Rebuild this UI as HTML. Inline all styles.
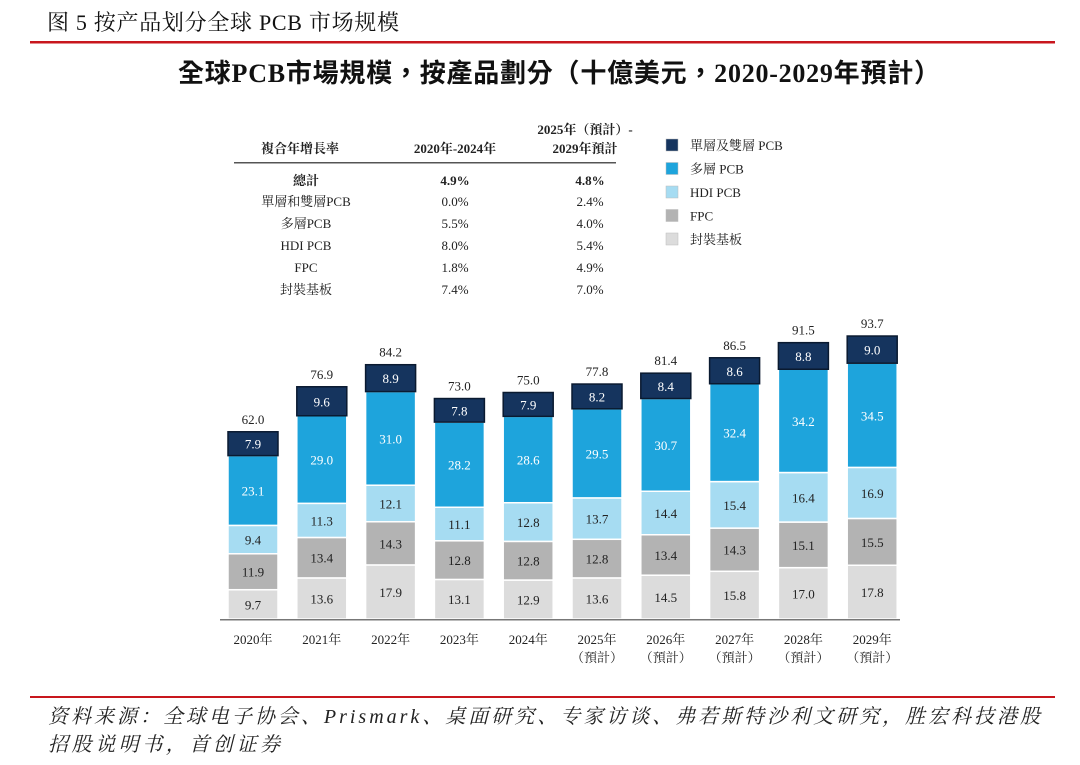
<!DOCTYPE html>
<html><head><meta charset="utf-8">
<style>
body{margin:0;background:#fff;}
svg{display:block;}
text{font-family:"Liberation Serif","Noto Serif CJK SC","Noto Sans CJK TC",serif;}
</style></head>
<body>
<svg id="chart" width="1080" height="765" viewBox="0 0 1080 765">
<text x="47" y="30" font-size="22" fill="#111" textLength="352">图 5  按产品划分全球 PCB 市场规模</text>
<rect x="30" y="41" width="1025" height="2.5" fill="#c8161d"/>
<text x="178" y="82" font-size="26" font-weight="bold" fill="#111" textLength="762" style='font-family:"Liberation Serif","Noto Sans CJK TC",serif'>全球PCB市場規模，按產品劃分（十億美元，2020-2029年預計）</text>

<g font-size="13" fill="#222" text-anchor="middle">
<text x="300" y="153" font-weight="bold">複合年增長率</text>
<text x="455" y="153" font-weight="bold">2020年-2024年</text>
<text x="585" y="134" font-weight="bold">2025年（預計）-</text>
<text x="585" y="153" font-weight="bold">2029年預計</text>
<rect x="234" y="162" width="382" height="1.5" fill="#555"/>
<text x="306" y="185" font-weight="bold">總計</text><text x="455" y="185" font-weight="bold">4.9%</text><text x="590" y="185" font-weight="bold">4.8%</text>
<text x="306" y="206">單層和雙層PCB</text><text x="455" y="206">0.0%</text><text x="590" y="206">2.4%</text>
<text x="306" y="228">多層PCB</text><text x="455" y="228">5.5%</text><text x="590" y="228">4.0%</text>
<text x="306" y="250">HDI PCB</text><text x="455" y="250">8.0%</text><text x="590" y="250">5.4%</text>
<text x="306" y="272">FPC</text><text x="455" y="272">1.8%</text><text x="590" y="272">4.9%</text>
<text x="306" y="294">封裝基板</text><text x="455" y="294">7.4%</text><text x="590" y="294">7.0%</text>
</g>
<g id="legend"></g>
<g id="bars"></g>
<rect x="220" y="619" width="680" height="1.5" fill="#777"/>
<g id="xlabels"></g>
<rect x="30" y="696" width="1025" height="2" fill="#c8161d"/>
<text x="48" y="723" font-size="20" font-style="italic" fill="#222" textLength="992" style='font-family:"Liberation Serif","Noto Serif CJK SC",serif'>资料来源：全球电子协会、Prismark、桌面研究、专家访谈、弗若斯特沙利文研究，胜宏科技港股</text>
<text x="48" y="751" font-size="20" font-style="italic" fill="#222" textLength="232" style='font-family:"Liberation Serif","Noto Serif CJK SC",serif'>招股说明书，首创证券</text>
</svg>
<script>
const categories=["2020年","2021年","2022年","2023年","2024年","2025年","2026年","2027年","2028年","2029年"];
const forecast=[false,false,false,false,false,true,true,true,true,true];
const pkgSubstrate=[9.7,13.6,17.9,13.1,12.9,13.6,14.5,15.8,17.0,17.8];
const fpc=[11.9,13.4,14.3,12.8,12.8,12.8,13.4,14.3,15.1,15.5];
const hdi=[9.4,11.3,12.1,11.1,12.8,13.7,14.4,15.4,16.4,16.9];
const multiLayer=[23.1,29.0,31.0,28.2,28.6,29.5,30.7,32.4,34.2,34.5];
const singleDouble=[7.9,9.6,8.9,7.8,7.9,8.2,8.4,8.6,8.8,9.0];
const totals=[62.0,76.9,84.2,73.0,75.0,77.8,81.4,86.5,91.5,93.7];
const seriesNames=["單層及雙層 PCB","多層 PCB","HDI PCB","FPC","封裝基板"];

const NS="http://www.w3.org/2000/svg";
const base=619, scale=3.02, x0=253, step=68.8, bw=50;
const xPos=i=>x0+i*step;
const yPos=v=>base-v*scale;
function mk(tag,attrs,parent,txt){const e=document.createElementNS(NS,tag);for(const k in attrs)e.setAttribute(k,attrs[k]);if(txt!==undefined)e.textContent=txt;parent.appendChild(e);return e;}
const stack=[
 {vals:pkgSubstrate,fill:"#dcdcdc",tc:"#222",name:"packaging-substrate",st:"#fff"},
 {vals:fpc,fill:"#b3b3b3",tc:"#222",name:"fpc",st:"#fff"},
 {vals:hdi,fill:"#a6dcf2",tc:"#222",name:"hdi-pcb",st:"#fff"},
 {vals:multiLayer,fill:"#1ea4dc",tc:"#fff",name:"multilayer-pcb",st:"#fff"},
 {vals:singleDouble,fill:"#15345e",tc:"#fff",name:"single-double-pcb",st:"#0a1a30"}];
const bars=document.getElementById('bars');
categories.forEach((c,i)=>{
  let cum=0;
  const cx=xPos(i);
  stack.forEach(s=>{
    const v=s.vals[i];
    const y1=yPos(cum+v), y0=yPos(cum);
    const r=mk('rect',{x:cx-bw/2,y:y1,width:bw,height:y0-y1,fill:s.fill,stroke:s.st,"stroke-width":1.5},bars);
    
    
    const t=mk('text',{x:cx,y:(y0+y1)/2+5,"text-anchor":"middle","font-size":13,fill:s.tc},bars,v.toFixed(1));
    
    
    cum+=v;
  });
  const tt=mk('text',{x:cx,y:yPos(totals[i])-8,"text-anchor":"middle","font-size":13,fill:"#222"},bars,totals[i].toFixed(1));
  
  
  const xl=document.getElementById('xlabels');
  const l=mk('text',{x:cx,y:644,"text-anchor":"middle","font-size":13,fill:"#222"},xl,c);
  
  
  if(forecast[i]){
    const f=mk('text',{x:cx,y:662,"text-anchor":"middle","font-size":13,fill:"#222"},xl,"（預計）");
    
    
  }
});
const leg=document.getElementById('legend');
const legFill=["#15345e","#1ea4dc","#a6dcf2","#b3b3b3","#dcdcdc"];
seriesNames.forEach((n,k)=>{
  const y=139+k*23.5;
  const sw=mk('rect',{x:666,y:y,width:12,height:12,fill:legFill[k],stroke:"#bbb","stroke-width":0.5},leg);
  
  
  const t=mk('text',{x:690,y:y+11,"font-size":13,fill:"#222"},leg,n);
  
  
});
</script>
</body></html>
